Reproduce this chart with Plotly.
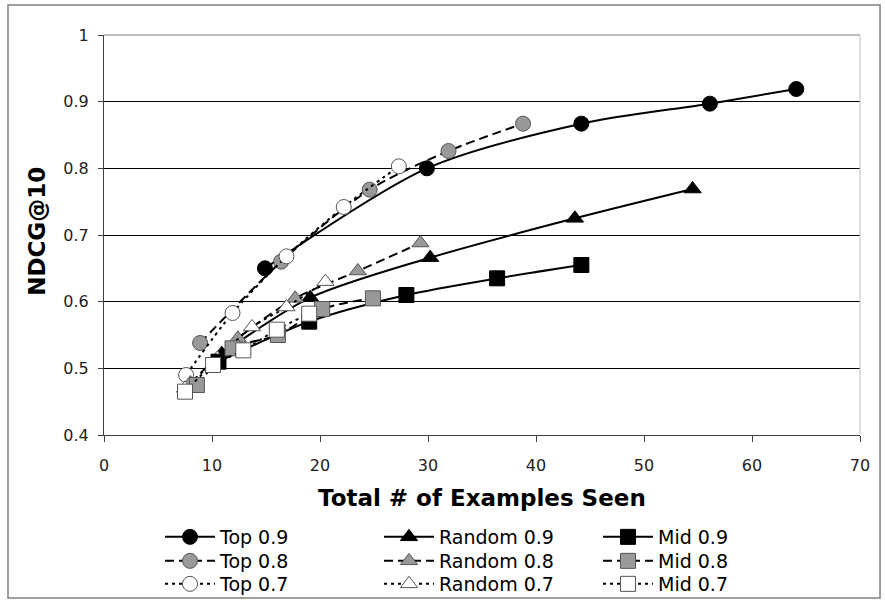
import plotly.graph_objects as go

# ---- data ----
top09_x = [14.9, 29.9, 44.2, 56.1, 64.1]
top09_y = [0.650, 0.800, 0.867, 0.897, 0.919]
top08_x = [8.9, 16.4, 24.6, 31.9, 38.8]
top08_y = [0.538, 0.660, 0.768, 0.826, 0.867]
top07_x = [7.6, 11.9, 16.9, 22.2, 27.3]
top07_y = [0.490, 0.583, 0.668, 0.742, 0.803]
rand09_x = [10.9, 19.1, 30.2, 43.6, 54.5]
rand09_y = [0.522, 0.606, 0.666, 0.725, 0.769]
rand08_x = [8.0, 12.4, 17.7, 23.5, 29.3]
rand08_y = [0.478, 0.545, 0.605, 0.646, 0.688]
rand07_x = [7.5, 10.5, 13.7, 16.9, 20.5]
rand07_y = [0.470, 0.515, 0.562, 0.592, 0.630]
mid09_x = [10.6, 19.0, 28.0, 36.4, 44.2]
mid09_y = [0.510, 0.570, 0.610, 0.635, 0.655]
mid08_x = [8.6, 11.9, 16.1, 20.2, 24.9]
mid08_y = [0.475, 0.530, 0.550, 0.589, 0.605]
mid07_x = [7.5, 10.1, 12.9, 16.0, 19.0]
mid07_y = [0.465, 0.505, 0.527, 0.558, 0.582]

x_ticks = [0, 10, 20, 30, 40, 50, 60, 70]
y_ticks = [0.4, 0.5, 0.6, 0.7, 0.8, 0.9, 1.0]
y_tick_text = ["0.4", "0.5", "0.6", "0.7", "0.8", "0.9", "1"]

FONT = "DejaVu Sans"
BLACK = "#000000"
GRAY = "#999999"
WHITE = "#ffffff"
EDGE_GRAY = "#555555"

# (name, x, y, symbol, fill, edge, dash, legend column, legend row)
series = [
    ("Top 0.9", top09_x, top09_y, "circle", BLACK, BLACK, "solid", 0, 0),
    ("Top 0.8", top08_x, top08_y, "circle", GRAY, EDGE_GRAY, "9px,5px", 0, 1),
    ("Top 0.7", top07_x, top07_y, "circle", WHITE, EDGE_GRAY, "3px,4px", 0, 2),
    ("Random 0.9", rand09_x, rand09_y, "triangle-up", BLACK, BLACK, "solid", 1, 0),
    ("Random 0.8", rand08_x, rand08_y, "triangle-up", GRAY, EDGE_GRAY, "9px,5px", 1, 1),
    ("Random 0.7", rand07_x, rand07_y, "triangle-up", WHITE, EDGE_GRAY, "3px,4px", 1, 2),
    ("Mid 0.9", mid09_x, mid09_y, "square", BLACK, BLACK, "solid", 2, 0),
    ("Mid 0.8", mid08_x, mid08_y, "square", GRAY, EDGE_GRAY, "9px,5px", 2, 1),
    ("Mid 0.7", mid07_x, mid07_y, "square", WHITE, EDGE_GRAY, "3px,4px", 2, 2),
]

W, H = 885, 603
col_px = [160, 379, 598]      # legend box left edge (px)
row_top_px = [518, 542, 565]  # legend box top edge (px)

fig = go.Figure()
legend_layouts = {}
for i, (name, xs, ys, sym, fill, edge, dash, col, row) in enumerate(series):
    key = "legend" if i == 0 else f"legend{i + 1}"
    fig.add_trace(go.Scatter(
        x=xs, y=ys, name=name, mode="lines+markers",
        line=dict(color="black", width=2, dash=dash, shape="spline", smoothing=0.8),
        marker=dict(symbol=sym, size=15, color=fill, line=dict(color=edge, width=1)),
        legend=key,
    ))
    legend_layouts[key] = dict(
        font=dict(family=FONT, size=19, color="black"),
        bgcolor="rgba(0,0,0,0)", xanchor="left", yanchor="top",
        xref="container", yref="container",
        x=col_px[col] / W, y=1 - row_top_px[row] / H,
        itemwidth=50,
    )

fig.update_layout(
    width=W, height=H,
    paper_bgcolor="white", plot_bgcolor="white",
    margin=dict(l=104, r=25, t=35, b=168, autoexpand=False),
    font=dict(family=FONT, color="#222222"),
    xaxis=dict(
        range=[0, 70], tickvals=x_ticks, showgrid=False, zeroline=False,
        showline=True, linecolor="#404040", linewidth=1,
        ticks="outside", ticklen=6, tickcolor="#404040",
        ticklabelstandoff=10, automargin=False,
        tickfont=dict(family=FONT, size=16, color="#222222"),
    ),
    yaxis=dict(
        range=[0.4, 1.0], tickvals=y_ticks, ticktext=y_tick_text,
        showgrid=True, gridcolor="black", gridwidth=1, zeroline=False,
        showline=True, linecolor="#404040", linewidth=1,
        ticks="outside", ticklen=5, tickcolor="#404040",
        ticklabelstandoff=6, automargin=False,
        tickfont=dict(family=FONT, size=16, color="#222222"),
    ),
    showlegend=True,
    annotations=[
        dict(text="<b>Total # of Examples Seen</b>", xref="paper", yref="paper",
             x=0.5, y=-0.1575, xanchor="center", yanchor="middle", showarrow=False,
             font=dict(family=FONT, size=23, color="black")),
        dict(text="<b>NDCG@10</b>", xref="paper", yref="paper",
             x=-0.088, y=0.509, xanchor="center", yanchor="middle", showarrow=False,
             textangle=-90, font=dict(family=FONT, size=23, color="black")),
    ],
    **legend_layouts,
)

# plot-area border (top and right) in light gray
fig.add_shape(type="line", xref="paper", yref="paper", x0=0, x1=1, y0=1, y1=1,
              line=dict(color="#a8a8a8", width=1.5), layer="above")
fig.add_shape(type="line", xref="paper", yref="paper", x0=1, x1=1, y0=0, y1=1,
              line=dict(color="#c0c0c0", width=1), layer="above")
# chart-area outer border
fig.add_shape(type="rect", xref="paper", yref="paper",
              x0=-0.127, x1=1.0265, y0=-0.4075, y1=1.075,
              line=dict(color="#808080", width=1.5), layer="below")

fig.write_html("out.html", config={"displayModeBar": False},
               post_script="document.body.style.margin='0';")
